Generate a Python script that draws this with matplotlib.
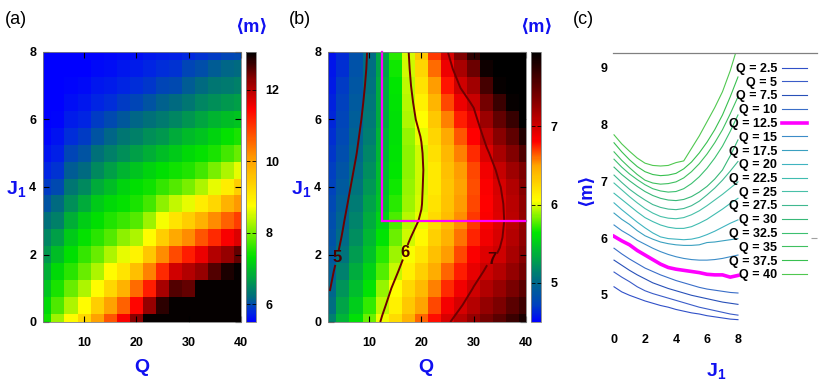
import numpy as np
import matplotlib
matplotlib.use("Agg")
import matplotlib.pyplot as plt
from matplotlib.colors import LinearSegmentedColormap

plt.rcParams['font.family'] = ['Liberation Sans Narrow', 'Liberation Sans', 'DejaVu Sans']
plt.rcParams['font.weight'] = 'bold'

# Grid of the scan
Q_vals = [2.5, 5, 7.5, 10, 12.5, 15, 17.5, 20, 22.5, 25, 27.5, 30, 32.5, 35, 37.5, 40]
J_vals = [0, 0.5, 1, 1.5, 2, 2.5, 3, 3.5, 4, 4.5, 5, 5.5, 6, 6.5, 7, 7.5, 8]

# panel (a): <m>, one row per Q, values along J1
m_a = [
    [7.4, 7.25, 7.05, 6.85, 6.65, 6.45, 6.25, 6.05, 5.9, 5.75, 5.62, 5.55, 5.5, 5.5, 5.5, 5.5, 5.5],
    [8.2, 7.75, 7.45, 7.25, 7.0, 6.7, 6.4, 6.2, 6.0, 5.85, 5.72, 5.62, 5.55, 5.5, 5.5, 5.5, 5.5],
    [8.8, 8.3, 7.9, 7.55, 7.3, 7.1, 6.85, 6.55, 6.3, 6.1, 5.95, 5.8, 5.68, 5.6, 5.55, 5.5, 5.5],
    [9.3, 8.8, 8.3, 7.9, 7.6, 7.35, 7.15, 6.8, 6.5, 6.2, 6.05, 5.9, 5.75, 5.65, 5.58, 5.52, 5.5],
    [10.0, 9.4, 8.8, 8.3, 7.9, 7.55, 7.3, 7.1, 6.8, 6.5, 6.25, 6.05, 5.9, 5.75, 5.65, 5.57, 5.52],
    [10.7, 10.0, 9.3, 8.8, 8.3, 7.8, 7.5, 7.25, 7.0, 6.7, 6.4, 6.15, 5.98, 5.82, 5.7, 5.6, 5.55],
    [11.5, 10.6, 9.8, 9.1, 8.6, 8.1, 7.65, 7.35, 7.2, 6.9, 6.55, 6.3, 6.08, 5.9, 5.75, 5.65, 5.58],
    [12.3, 11.4, 10.5, 9.6, 8.9, 8.3, 7.8, 7.45, 7.3, 7.05, 6.7, 6.4, 6.15, 5.95, 5.8, 5.68, 5.6],
    [13.0, 12.2, 11.2, 10.3, 9.5, 8.8, 8.2, 7.7, 7.4, 7.2, 6.85, 6.55, 6.25, 6.05, 5.88, 5.75, 5.65],
    [13.0, 12.8, 12.1, 11.1, 10.2, 9.4, 8.7, 8.1, 7.6, 7.3, 7.0, 6.65, 6.35, 6.12, 5.95, 5.8, 5.7],
    [13.0, 13.0, 12.6, 11.8, 10.8, 9.9, 9.1, 8.4, 7.8, 7.4, 7.1, 6.8, 6.45, 6.2, 6.0, 5.85, 5.72],
    [13.0, 13.0, 12.5, 12.0, 11.2, 10.2, 9.4, 8.6, 8.0, 7.5, 7.25, 6.95, 6.6, 6.3, 6.1, 5.95, 5.78],
    [13.0, 13.0, 13.0, 12.2, 11.6, 10.7, 9.8, 9.0, 8.3, 7.7, 7.35, 7.05, 6.75, 6.45, 6.2, 6.02, 5.85],
    [13.0, 13.0, 13.0, 12.6, 12.0, 11.1, 10.2, 9.3, 8.6, 8.0, 7.45, 7.2, 6.9, 6.55, 6.3, 6.1, 5.9],
    [13.0, 13.0, 13.0, 12.9, 12.2, 11.5, 10.6, 9.8, 9.0, 8.3, 7.7, 7.35, 7.0, 6.65, 6.35, 6.15, 5.95],
    [13.0, 13.0, 13.0, 13.0, 12.5, 11.7, 10.9, 10.1, 9.4, 8.6, 7.9, 7.45, 7.05, 6.7, 6.4, 6.2, 6.0],
]

# panels (b) and (c): <m>, one row per Q, values along J1
m_b = [
    [5.14, 5.05, 4.99, 4.94, 4.89, 4.85, 4.81, 4.78, 4.74, 4.71, 4.68, 4.66, 4.63, 4.61, 4.59, 4.57, 4.56],
    [5.40, 5.31, 5.23, 5.14, 5.07, 5.02, 4.98, 4.94, 4.90, 4.86, 4.82, 4.78, 4.75, 4.72, 4.69, 4.66, 4.64],
    [5.61, 5.52, 5.43, 5.35, 5.28, 5.21, 5.16, 5.11, 5.07, 5.03, 4.99, 4.96, 4.93, 4.90, 4.87, 4.85, 4.83],
    [5.82, 5.72, 5.63, 5.55, 5.47, 5.41, 5.35, 5.30, 5.25, 5.21, 5.17, 5.13, 5.10, 5.08, 5.06, 5.04, 5.03],
    [6.03, 5.95, 5.88, 5.78, 5.70, 5.62, 5.54, 5.48, 5.45, 5.43, 5.41, 5.39, 5.36, 5.35, 5.35, 5.31, 5.34],
    [6.23, 6.13, 6.05, 5.96, 5.89, 5.82, 5.76, 5.71, 5.67, 5.64, 5.62, 5.61, 5.61, 5.62, 5.64, 5.67, 5.70],
    [6.44, 6.33, 6.24, 6.13, 6.04, 5.98, 5.93, 5.90, 5.88, 5.87, 5.87, 5.88, 5.92, 5.93, 5.95, 5.97, 5.99],
    [6.62, 6.50, 6.39, 6.28, 6.18, 6.09, 6.02, 5.99, 5.98, 5.97, 5.98, 6.01, 6.06, 6.12, 6.19, 6.26, 6.32],
    [6.79, 6.68, 6.57, 6.46, 6.36, 6.29, 6.23, 6.19, 6.17, 6.17, 6.20, 6.26, 6.33, 6.42, 6.51, 6.61, 6.70],
    [6.97, 6.85, 6.73, 6.62, 6.52, 6.44, 6.38, 6.35, 6.34, 6.36, 6.41, 6.48, 6.57, 6.67, 6.77, 6.88, 6.99],
    [7.11, 6.98, 6.86, 6.76, 6.67, 6.59, 6.54, 6.51, 6.50, 6.52, 6.57, 6.65, 6.76, 6.88, 7.02, 7.18, 7.35],
    [7.25, 7.12, 7.01, 6.91, 6.82, 6.75, 6.70, 6.67, 6.66, 6.68, 6.73, 6.81, 6.91, 7.04, 7.20, 7.45, 7.73],
    [7.39, 7.25, 7.13, 7.03, 6.94, 6.87, 6.83, 6.81, 6.82, 6.87, 6.96, 7.08, 7.23, 7.41, 7.62, 7.88, 8.17],
    [7.52, 7.37, 7.24, 7.12, 7.02, 6.97, 6.95, 6.96, 6.99, 7.06, 7.17, 7.31, 7.48, 7.68, 7.91, 8.19, 8.49],
    [7.68, 7.52, 7.38, 7.26, 7.17, 7.12, 7.10, 7.11, 7.14, 7.22, 7.34, 7.50, 7.69, 7.91, 8.17, 8.49, 8.84],
    [7.82, 7.66, 7.53, 7.41, 7.32, 7.28, 7.27, 7.28, 7.33, 7.36, 7.58, 7.80, 8.05, 8.30, 8.58, 8.95, 9.40],
]

line_colors = ['#3050c8', '#3a5cc8', '#2850b8', '#3a6ec8', '#ff00ff', '#3c8cc8', '#3aa0c0', '#40b4c0',
               '#40bcb0', '#48c0a8', '#40b890', '#38b878', '#3cc070', '#40c060', '#38c050', '#50c850']

highlight_Q = 12.5
J_cut = 3.0

cmap_a = LinearSegmentedColormap.from_list('gp_a', [
    (0.0, '#0000ff'), (0.035, '#0028e0'), (0.09, '#006a80'), (0.24, '#00e000'),
    (0.43, '#ffff00'), (0.60, '#ffa000'), (0.79, '#ff0000'), (0.90, '#8c0000'), (1.0, '#000000')])
cmap_b = LinearSegmentedColormap.from_list('gp_b', [
    (0.0, '#0000ff'), (0.06, '#0040c0'), (0.16, '#007080'), (0.33, '#00e600'),
    (0.45, '#ffff00'), (0.58, '#ffa500'), (0.67, '#ff0000'), (0.81, '#8c0000'), (1.0, '#000000')])

Q = np.array(Q_vals)
J = np.array(J_vals)
A = np.array(m_a)
B = np.array(m_b)

W, H = 831, 382
fig = plt.figure(figsize=(W / 100, H / 100), dpi=100)


def box(x0, y0, x1, y1):
    return [x0 / W, 1 - y1 / H, (x1 - x0) / W, (y1 - y0) / H]


def ftext(x, y, s, **kw):
    fig.text(x / W, 1 - y / H, s, ha='center', va='center', **kw)


def heat(ax, cax, data, cmap, vmin, vmax, cticks):
    pm = ax.pcolormesh(Q, J, data.T, cmap=cmap, vmin=vmin, vmax=vmax, shading='nearest')
    ax.set_xlim(2.15, 40)
    ax.set_ylim(0, 8)
    ax.set_xticks([10, 20, 30, 40])
    ax.set_yticks([0, 2, 4, 6, 8])
    ax.tick_params(axis='both', direction='in', top=True, right=True, length=4, width=0.8,
                   labelsize=9)
    ax.tick_params(axis='x', pad=11)
    ax.tick_params(axis='y', pad=5)
    for s in ax.spines.values():
        s.set_color('#808080')
        s.set_linewidth(0.6)
    cb = fig.colorbar(pm, cax=cax, ticks=cticks)
    cb.outline.set_edgecolor('#808080')
    cb.outline.set_linewidth(0.6)
    cax.tick_params(direction='in', length=3, width=0.6, labelsize=9, pad=7,
                    left=True, right=True)
    return pm


# (a)
ax_a = fig.add_axes(box(43, 52, 241, 322))
cax_a = fig.add_axes(box(246, 52, 256, 322))
heat(ax_a, cax_a, A, cmap_a, 5.5, 13.05, [6, 8, 10, 12])

# (b)
ax_b = fig.add_axes(box(328, 52, 526, 322))
cax_b = fig.add_axes(box(531, 52, 541, 322))
heat(ax_b, cax_b, B, cmap_b, 4.5, 7.95, [5, 6, 7])
cs = ax_b.contour(Q, J, B.T, levels=[5, 6, 7], colors='#6e0000', linewidths=1.4)
labels = ax_b.clabel(cs, fmt='%d', fontsize=12, inline=True, inline_spacing=3, colors='#4a0000',
                     manual=[(4.2, 1.9), (18.3, 2.0), (34.3, 1.75)])
for t in labels:
    t.set_rotation(0)
    t.set_zorder(5)
ax_b.plot([highlight_Q, highlight_Q], [J_cut, 8], color='#ff00ff', lw=1.6, clip_on=False)
ax_b.plot([highlight_Q, 40], [J_cut, J_cut], color='#ff00ff', lw=1.6, clip_on=False)

# (c)
ax_c = fig.add_axes(box(613, 53, 817, 328))
for q, row, c in zip(Q_vals, m_b, line_colors):
    lw = 2.6 if q == highlight_Q else 0.8
    ax_c.plot(J, row, color=c, lw=lw, label=f'Q = {q:g}')
ax_c.set_xlim(-0.065, 13.1)
ax_c.set_ylim(4.413, 9.263)
ax_c.set_xticks([0, 2, 4, 6, 8])
ax_c.set_yticks([5, 6, 7, 8, 9])
ax_c.tick_params(length=0, labelsize=9, pad=4)
for side in ['left', 'right', 'bottom']:
    ax_c.spines[side].set_visible(False)
ax_c.spines['top'].set_color('#808080')
ax_c.spines['top'].set_linewidth(0.9)
sec = ax_c.secondary_yaxis('right')
sec.set_yticks([6])
sec.tick_params(direction='in', length=4, color='#a0a0a0', labelright=False)
sec.spines['right'].set_visible(False)
ax_c.legend(loc='upper right', bbox_to_anchor=(807 / W, 1 - 63 / H), bbox_transform=fig.transFigure,
            frameon=False, markerfirst=False, borderpad=0, borderaxespad=0, handlelength=2.0,
            handletextpad=0.4, labelspacing=0.14, fontsize=9)

# texts
blue = '#1010f0'
ftext(16, 19, '(a)', fontsize=13, fontweight='normal')
ftext(300, 19, '(b)', fontsize=13, fontweight='normal')
ftext(583, 19, '(c)', fontsize=13, fontweight='normal')
ftext(251, 27, '⟨m⟩', fontsize=13, color=blue)
ftext(536, 27, '⟨m⟩', fontsize=13, color=blue)
ftext(142, 367, 'Q', fontsize=14, color=blue)
ftext(426, 367, 'Q', fontsize=14, color=blue)
ftext(16, 189, r'$\mathregular{J_1}$', fontsize=14, color=blue)
ftext(301, 189, r'$\mathregular{J_1}$', fontsize=14, color=blue)
ftext(587, 190, '⟨m⟩', fontsize=13, color=blue, rotation=90)
ftext(716, 371, r'$\mathregular{J_1}$', fontsize=14, color=blue)

fig.savefig('out.png', dpi=100)
